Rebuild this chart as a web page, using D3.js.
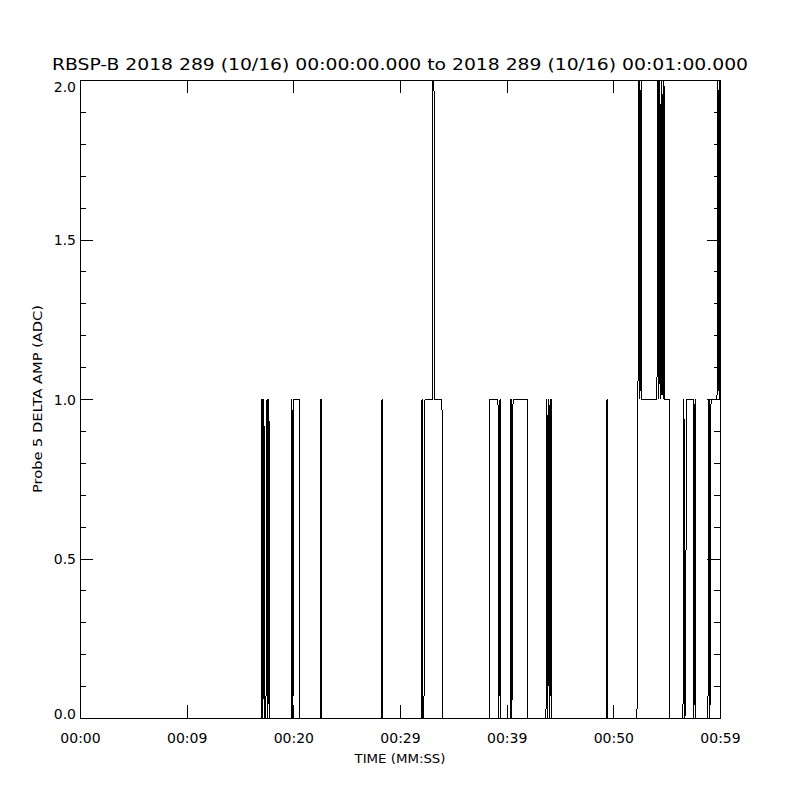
<!DOCTYPE html>
<html>
<head>
<meta charset="utf-8">
<script src="https://cdn.jsdelivr.net/npm/d3@7.9.0/dist/d3.min.js"></script>
<style>
  body { margin: 0; background: #fff; }
  svg { display: block; }
  .axis text { font-family: "DejaVu Sans", sans-serif; font-size: 14px; fill: #000; }
  .axis path, .axis line { stroke: #000; stroke-width: 1; shape-rendering: crispEdges; }
</style>
</head>
<body>
<svg id="chart" width="800" height="800"></svg>
<script>
// Probe 5 delta amplitude samples (seconds after 00:00:00, ADC counts)
const timeSec = [
  0.00, 16.97, 17.06, 17.15, 17.24, 17.33, 17.43, 17.53, 17.62, 17.71, 17.80,
  19.78, 19.87, 19.96, 20.06, 20.53, 20.62,
  22.50, 22.59, 22.68,
  28.22, 28.31, 28.40,
  31.97, 32.06, 32.15, 32.24, 32.34, 33.00, 33.09, 33.18, 33.27, 33.93, 34.02,
  38.34, 38.43, 39.18, 39.27, 39.37, 39.46,
  40.31, 40.40, 40.49, 40.59, 41.90, 41.99,
  43.68, 43.77, 43.86, 43.96, 44.05, 44.15, 44.24,
  49.31, 49.40, 49.49,
  52.21, 52.30, 52.40, 52.49, 52.59, 52.68, 54.08, 54.18, 54.27, 54.36, 54.46,
  54.55, 54.65, 54.74, 54.83, 55.21, 55.30,
  56.52, 56.61, 56.71, 56.89, 57.46, 57.55, 57.65, 57.74,
  58.86, 58.96, 59.05, 59.15, 59.71, 59.80, 59.90, 59.99
];
const ampAdc = [
  0, 0, 1, 0, 1, 0, 0, 1, 0, 1, 0,
  0, 1, 0, 1, 1, 0,
  0, 1, 0,
  0, 1, 0,
  0, 1, 0, 0, 1, 1, 2, 2, 1, 1, 0,
  0, 1, 1, 0, 1, 0,
  0, 1, 0, 1, 1, 0,
  0, 1, 0, 1, 0, 1, 0,
  0, 1, 0,
  0, 1, 2, 1, 2, 1, 1, 2, 1, 2, 1,
  2, 1, 2, 1, 1, 0,
  0, 1, 0, 1, 1, 0, 1, 0,
  0, 1, 0, 1, 1, 2, 1, 2
];

const timeEnd = 59.99;
const xTickLabels = ['00:00', '00:09', '00:20', '00:29', '00:39', '00:50', '00:59'];
const yMajorTicks = [0, 0.5, 1, 1.5, 2];
const yMinorTicks = [0.1, 0.2, 0.3, 0.4, 0.6, 0.7, 0.8, 0.9, 1.1, 1.2, 1.3, 1.4, 1.6, 1.7, 1.8, 1.9];

const titleText = 'RBSP-B 2018 289 (10/16) 00:00:00.000 to 2018 289 (10/16) 00:01:00.000';

const plotLeft = 80, plotRight = 720, plotTop = 80, plotBottom = 718;
const tickLen = 12.8;

const svg = d3.select('#chart');

let x = d3.scaleLinear().domain([0, timeEnd]).range([plotLeft, plotRight]);
let y = d3.scaleLinear().domain([0, 2]).range([plotBottom, plotTop]);

let xTicks = xTickLabels.map((_, i) => i * timeEnd / 6);

// bottom axis with labels
svg.append('g')
  .attr('class', 'axis')
  .attr('transform', `translate(0,${plotBottom})`)
  .call(d3.axisBottom(x).tickValues(xTicks)
    .tickFormat((d, i) => xTickLabels[i])
    .tickSize(-tickLen).tickSizeOuter(0).tickPadding(15));

// top axis, ticks only
svg.append('g')
  .attr('class', 'axis')
  .attr('transform', `translate(0,${plotTop})`)
  .call(d3.axisTop(x).tickValues(xTicks).tickFormat('')
    .tickSize(-tickLen).tickSizeOuter(0));

// left axis with labels
let yAxisG = svg.append('g')
  .attr('class', 'axis')
  .attr('transform', `translate(${plotLeft},0)`)
  .call(d3.axisLeft(y).tickValues(yMajorTicks).tickFormat(d3.format('.1f'))
    .tickSize(-tickLen).tickSizeOuter(0).tickPadding(4));

// IDL puts the top label a bit low and the bottom one a bit high
yAxisG.selectAll('.tick text')
  .attr('dy', (d) => d === 2 ? '0.8em' : (d === 0 ? '0.05em' : '0.36em'));

svg.append('g')
  .attr('class', 'axis')
  .attr('transform', `translate(${plotLeft},0)`)
  .call(d3.axisLeft(y).tickValues(yMinorTicks).tickFormat('')
    .tickSize(-tickLen / 2).tickSizeOuter(0));

// right axis, ticks only
svg.append('g')
  .attr('class', 'axis')
  .attr('transform', `translate(${plotRight},0)`)
  .call(d3.axisRight(y).tickValues(yMajorTicks).tickFormat('')
    .tickSize(-tickLen).tickSizeOuter(0));

svg.append('g')
  .attr('class', 'axis')
  .attr('transform', `translate(${plotRight},0)`)
  .call(d3.axisRight(y).tickValues(yMinorTicks).tickFormat('')
    .tickSize(-tickLen / 2).tickSizeOuter(0));

// data trace
let points = timeSec.map((t, i) => [t, ampAdc[i]]);
let line = d3.line().x((d) => x(d[0])).y((d) => y(d[1]));

svg.append('path')
  .datum(points)
  .attr('d', line)
  .attr('fill', 'none')
  .attr('stroke', '#000')
  .attr('stroke-width', 1)
  .attr('shape-rendering', 'crispEdges');

// titles
svg.append('text')
  .attr('x', 400)
  .attr('y', 70)
  .attr('text-anchor', 'middle')
  .attr('font-family', 'DejaVu Sans, sans-serif')
  .attr('font-size', 16)
  .attr('textLength', 696)
  .attr('lengthAdjust', 'spacingAndGlyphs')
  .text(titleText);

svg.append('text')
  .attr('x', 400)
  .attr('y', 763)
  .attr('text-anchor', 'middle')
  .attr('font-family', 'DejaVu Sans, sans-serif')
  .attr('font-size', 13)
  .attr('textLength', 91)
  .attr('lengthAdjust', 'spacingAndGlyphs')
  .text('TIME (MM:SS)');

svg.append('text')
  .attr('transform', 'translate(42,399) rotate(-90)')
  .attr('text-anchor', 'middle')
  .attr('font-family', 'DejaVu Sans, sans-serif')
  .attr('font-size', 13)
  .attr('textLength', 188)
  .attr('lengthAdjust', 'spacingAndGlyphs')
  .text('Probe 5 DELTA AMP (ADC)');
</script>
</body>
</html>
